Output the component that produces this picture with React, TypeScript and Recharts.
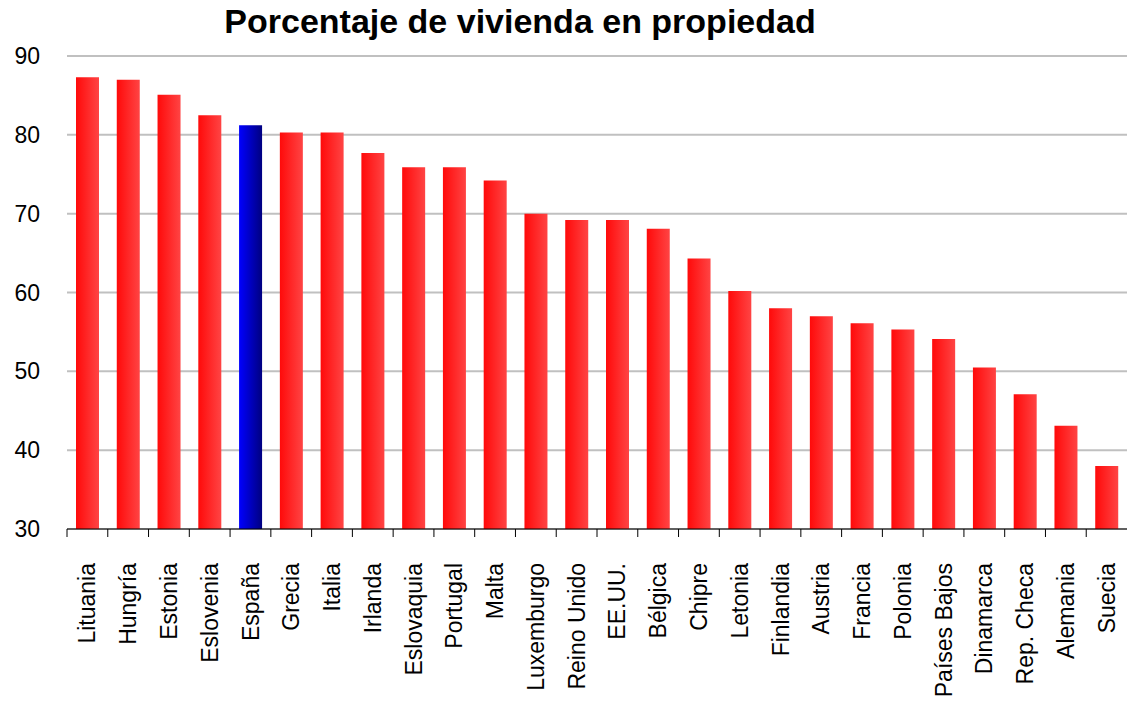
import { Bar, BarChart, CartesianGrid, Cell, XAxis, YAxis } from "recharts";

const countries = [
  "Lituania", "Hungría", "Estonia", "Eslovenia", "España", "Grecia", "Italia",
  "Irlanda", "Eslovaquia", "Portugal", "Malta", "Luxemburgo", "Reino Unido",
  "EE.UU.", "Bélgica", "Chipre", "Letonia", "Finlandia", "Austria", "Francia",
  "Polonia", "Países Bajos", "Dinamarca", "Rep. Checa", "Alemania", "Suecia",
];
const ownership = [
  87.3, 87.0, 85.1, 82.5, 81.2, 80.3, 80.3, 77.7, 75.9, 75.9, 74.2, 70.0, 69.2,
  69.2, 68.1, 64.3, 60.2, 58.0, 57.0, 56.1, 55.3, 54.1, 50.5, 47.1, 43.1, 38.0,
];
const yTicks = [30, 40, 50, 60, 70, 80, 90];
const highlight = "España";

const data = countries.map((name, i) => ({ name, value: ownership[i] }));

const W = 1127;
const H = 714;
const AXIS_W = 67;
const band = (W - AXIS_W) / countries.length;
const font = "'Liberation Sans', Arial, sans-serif";

function CountryTick(props: any) {
  const { x, y, payload } = props;
  return (
    <g transform={`translate(${x},${y})`}>
      <line x1={-band / 2} y1={0} x2={-band / 2} y2={8} stroke="#000" strokeWidth={1} />
      <text
        transform="rotate(-90)"
        x={-34}
        y={0}
        dy="0.35em"
        textAnchor="end"
        fontSize={23}
        fontFamily={font}
        fill="#000"
      >
        {payload.value}
      </text>
    </g>
  );
}

export default function App() {
  return (
    <div style={{ position: "absolute", left: 0, top: 0, width: W, height: H, background: "#fff" }}>
      <div
        style={{
          position: "absolute",
          left: 0,
          top: 4,
          width: 1040,
          textAlign: "center",
          fontFamily: font,
          fontWeight: "bold",
          fontSize: 34,
          lineHeight: "34px",
          color: "#000",
        }}
      >
        Porcentaje de vivienda en propiedad
      </div>
      <BarChart
        width={W}
        height={H}
        data={data}
        margin={{ top: 56, right: 0, left: 0, bottom: 0 }}
      >
        <defs>
          <linearGradient id="redGrad" x1="0" y1="0" x2="1" y2="0">
            <stop offset="0%" stopColor="#ff0a0a" />
            <stop offset="100%" stopColor="#ff4444" />
          </linearGradient>
          <linearGradient id="blueGrad" x1="0" y1="0" x2="1" y2="0">
            <stop offset="0%" stopColor="#0000ff" />
            <stop offset="100%" stopColor="#000080" />
          </linearGradient>
        </defs>
        <CartesianGrid vertical={false} stroke="#c0c0c0" strokeWidth={2} />
        <YAxis
          domain={[30, 90]}
          ticks={yTicks}
          width={AXIS_W}
          axisLine={false}
          tickLine={false}
          tickSize={0}
          tickMargin={27}
          tick={{ fill: "#000", fontSize: 23, fontFamily: font }}
        />
        <XAxis
          dataKey="name"
          interval={0}
          axisLine={{ stroke: "#000", strokeWidth: 1 }}
          tickLine={false}
          tickSize={0}
          tickMargin={0}
          tick={<CountryTick />}
          height={185}
        />
        <Bar dataKey="value" barSize={23} isAnimationActive={false}>
          {data.map((d) => (
            <Cell key={d.name} fill={d.name === highlight ? "url(#blueGrad)" : "url(#redGrad)"} />
          ))}
        </Bar>
      </BarChart>
    </div>
  );
}
